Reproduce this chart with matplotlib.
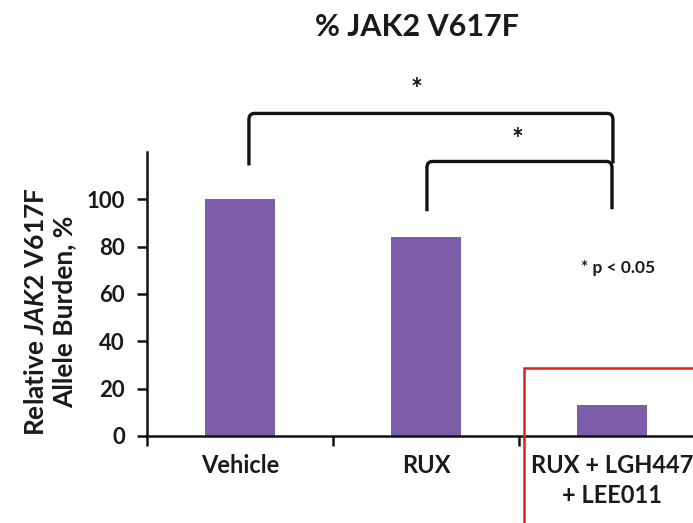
import matplotlib
matplotlib.use("Agg")
import matplotlib.pyplot as plt
from matplotlib.path import Path
from matplotlib.patches import PathPatch, Rectangle

categories = ["Vehicle", "RUX", "RUX + LGH447\n+ LEE011"]
values = [100, 84, 13]
yticks = [0, 20, 40, 60, 80, 100]
title = "% JAK2 V617F"
sig_note = "* p < 0.05"

plt.rcParams['font.family'] = ['Lato', 'DejaVu Sans']
plt.rcParams['font.weight'] = 'bold'
plt.rcParams['mathtext.fontset'] = 'custom'
plt.rcParams['mathtext.rm'] = 'Lato:weight=bold'
plt.rcParams['mathtext.it'] = 'Lato:style=italic:weight=bold'
plt.rcParams['mathtext.bf'] = 'Lato:weight=bold'

fig = plt.figure(figsize=(6.93, 5.23), dpi=100)
ax = fig.add_axes([147/693, 87/523, 558/693, 284/523])
bar_color = '#7B5EA7'
x = list(range(len(categories)))
ax.bar(x, values, width=0.376, color=bar_color, zorder=2)
ax.set_xlim(-0.5, 2.5)
ax.set_ylim(0, 120)
ax.set_yticks(yticks)
ax.set_yticklabels([str(t) for t in yticks], fontsize=16, fontweight='bold', color='#1a1a1a')
ax.set_xticks([-0.5, 0.5, 1.5])
ax.set_xticklabels([])
ax.tick_params(axis='both', direction='out', length=7, width=1.8, color='#111111')
ax.tick_params(axis='y', pad=9)
for s in ['top', 'right']:
    ax.spines[s].set_visible(False)
for s in ['left', 'bottom']:
    ax.spines[s].set_linewidth(1.8)
    ax.spines[s].set_color('#111111')

# category labels
for xi, lab in zip(x, categories):
    ax.text(xi, -7.5, lab, ha='center', va='top', fontsize=17, fontweight='bold',
            color='#1a1a1a', linespacing=1.4, transform=ax.transData, clip_on=False)

# y label
fig.text(50/693, 1 - 312/523, "Relative $\\it{JAK2}$ V617F\nAllele Burden, %",
         rotation=90, ha='center', va='center', fontsize=19, fontweight='bold',
         color='#1a1a1a', linespacing=1.2)

# title
fig.text(417/693, 1 - 27/523, title, ha='center', va='center', fontsize=22,
         fontweight='bold', color='#1a1a1a')


def bracket(x0, x1, yl, ytop, yr, rx=0.03, ry=2.6):
    verts = [(x0, yl), (x0, ytop - ry), (x0, ytop), (x0 + rx, ytop),
             (x1 - rx, ytop), (x1, ytop), (x1, ytop - ry), (x1, yr)]
    codes = [Path.MOVETO, Path.LINETO, Path.CURVE3, Path.CURVE3,
             Path.LINETO, Path.CURVE3, Path.CURVE3, Path.LINETO]
    p = PathPatch(Path(verts, codes), fill=False, lw=2.4, ec='#111111',
                  clip_on=False, capstyle='butt', joinstyle='round')
    ax.add_patch(p)

bracket(0.048, 2.005, 114.3, 136.3, 115.2)
bracket(1.005, 2.0, 95.0, 116.0, 95.8)
ax.text(0.95, 146, "*", ha='center', va='center', fontsize=20, fontweight='bold',
        color='#111111', clip_on=False)
ax.text(1.49, 125, "*", ha='center', va='center', fontsize=20, fontweight='bold',
        color='#111111', clip_on=False)
ax.text(2.03, 71, sig_note, ha='center', va='center', fontsize=12.5,
        fontweight='bold', color='#1a1a1a')

# red highlight box
fig.patches.append(Rectangle((524/693, -0.05), 0.3, 1 - 368/523 + 0.05,
                             transform=fig.transFigure, fill=False,
                             ec='#E02020', lw=1.8, zorder=5))

fig.savefig("out.png", dpi=100)
